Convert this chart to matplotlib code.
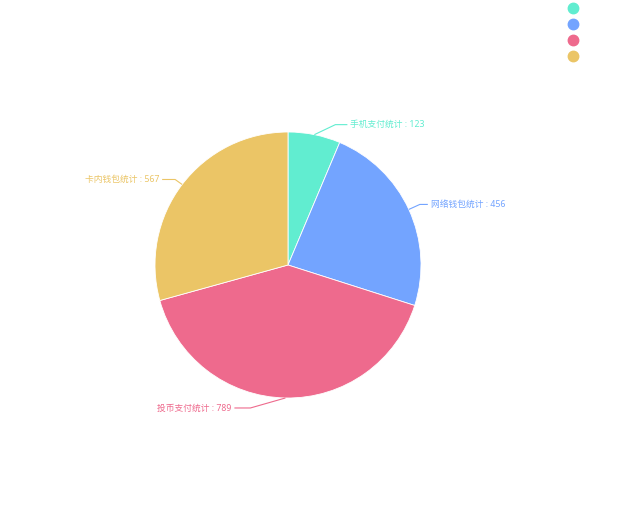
import matplotlib
matplotlib.use("Agg")
import matplotlib.pyplot as plt
from matplotlib.lines import Line2D
import numpy as np

plt.rcParams['font.family'] = ['Noto Sans', 'Noto Sans CJK SC', 'DejaVu Sans']

categories = ['手机支付统计', '网络钱包统计', '投币支付统计', '卡内钱包统计']
values = [123, 456, 789, 567]
colors = ['#61EDD0', '#73A4FF', '#EE6A8D', '#EBC566']

W, H = 640, 531
fig = plt.figure(figsize=(W / 100, H / 100), dpi=100)
ax = fig.add_axes([0, 0, 1, 1])

cx, cy, r = 288, H - 265, 133
wedges, _ = ax.pie(values, colors=colors, startangle=90, counterclock=False,
                   center=(cx, cy), radius=r, frame=True,
                   wedgeprops=dict(edgecolor='white', linewidth=0.6))
ax.set_xlim(0, W)
ax.set_ylim(0, H)
ax.set_aspect('equal')
ax.axis('off')

# leader lines: (elbow dx, dy in px, horizontal length)
total = sum(values)
cum = 0
leader = [(21, 10, 12), (11, 5, 8), (-35, -10, -16), (-7, 5, -13)]
for i, v in enumerate(values):
    mid = 90 - (cum + v / 2) / total * 360
    cum += v
    a = np.deg2rad(mid)
    ex, ey = cx + r * np.cos(a), cy + r * np.sin(a)
    dx, dy, hl = leader[i]
    bx, by = ex + dx, ey + dy
    tx = bx + hl
    ax.plot([ex, bx, tx], [ey, by, by], color=colors[i], lw=0.8, solid_capstyle='butt')
    ha = 'left' if hl > 0 else 'right'
    ax.text(tx + (3 if hl > 0 else -3), by, f'{categories[i]} : {v}', color=colors[i],
            fontsize=6.3, ha=ha, va='center')

handles = [Line2D([0], [0], marker='o', linestyle='none', markersize=7.5,
                  markerfacecolor=c, markeredgecolor=c) for c in colors]
fig.legend(handles, categories, loc='upper left', bbox_to_anchor=(565 / W, 1 - 1 / H),
           frameon=False, labelcolor='white', fontsize=5.8, handletextpad=0.5,
           labelspacing=0.86, borderaxespad=0, handlelength=1.2)

fig.savefig('out.png', dpi=100)
